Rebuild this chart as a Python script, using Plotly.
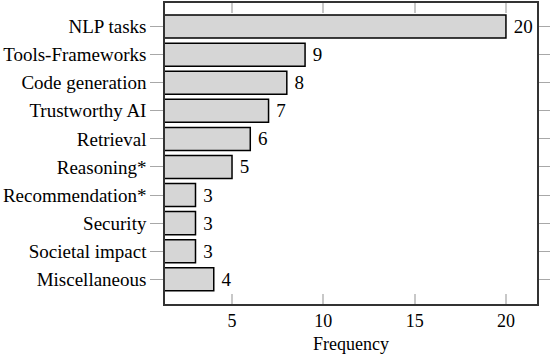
import plotly.graph_objects as go

# categories from top to bottom
categorias = ['NLP tasks', 'Tools-Frameworks', 'Code generation', 'Trustworthy AI',
              'Retrieval', 'Reasoning*', 'Recommendation*', 'Security',
              'Societal impact', 'Miscellaneous']
frecuencia = [20, 9, 8, 7, 6, 5, 3, 3, 3, 4]
ticks_x = [5, 10, 15, 20]

fuente = '"Liberation Serif", "Times New Roman", Times, serif'

trace_barras = go.Bar(
    x=frecuencia,
    y=categorias,
    orientation='h',
    width=0.82,
    marker=dict(
        color='#d6d6d6',
        line=dict(color='black', width=1.5),
    ),
    text=[str(v) for v in frecuencia],
    textposition='outside',
    texttemplate=' %{text}',
    textfont=dict(family=fuente, size=19, color='black'),
    cliponaxis=False,
)

fig = go.Figure(data=[trace_barras])

fig.update_layout(
    width=550,
    height=354,
    margin=dict(l=165, r=13, t=3, b=50, autoexpand=False),
    paper_bgcolor='white',
    plot_bgcolor='white',
    showlegend=False,
    font=dict(family=fuente, size=19, color='black'),
    xaxis_title=dict(text='Frequency', standoff=9,
                     font=dict(family=fuente, size=18, color='black')),
)

fig.update_xaxes(
    range=[1.33, 21.7],
    tickvals=ticks_x,
    ticks='inside',
    ticklen=10,
    tickwidth=1.5,
    tickcolor='#c8c8c8',
    showgrid=False,
    zeroline=False,
    showline=True,
    linecolor='#333333',
    linewidth=1.5,
    mirror='ticks',
    tickfont=dict(family=fuente, size=18),
    automargin=False,
)

fig.update_yaxes(
    type='category',
    range=[9.88, -0.84],
    ticks='outside',
    ticklen=13,
    tickwidth=1,
    tickcolor='#a8a8a8',
    showgrid=False,
    showline=True,
    linecolor='#333333',
    linewidth=1.5,
    mirror='ticks',
    automargin=False,
)

# quitar el margen del body para que la figura quede en (0, 0)
fig.write_html("out.html", config={'displayModeBar': False},
               post_script="document.body.style.margin='0';")
